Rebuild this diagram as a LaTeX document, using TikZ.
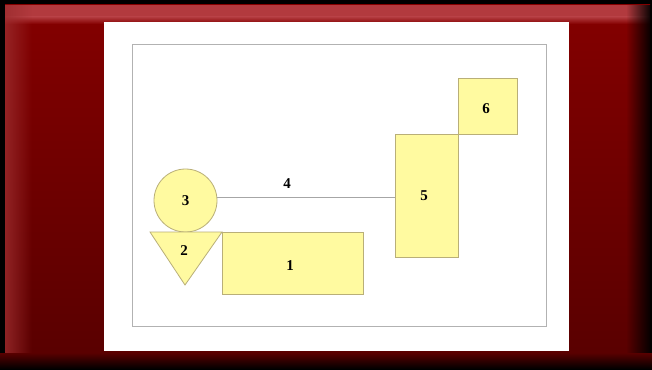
\documentclass[tikz,border=0pt]{standalone}
\usepackage{fontspec}
\setmainfont{Liberation Serif}
\usetikzlibrary{fadings,shapes.geometric}
\definecolor{shapefill}{RGB}{255,250,160}
\definecolor{shapeedge}{RGB}{185,175,120}
\definecolor{panelTop}{RGB}{132,0,0}
\definecolor{panelBot}{RGB}{88,0,0}
\definecolor{bevel}{RGB}{178,58,62}
\tikzset{
  x=1pt, y=-1pt,
  part/.style={fill=shapefill, draw=shapeedge, line width=0.8pt},
  lbl/.style={font=\bfseries\fontsize{15}{15}\selectfont, text=black, inner sep=0pt},
}
\begin{document}
\begin{tikzpicture}
\useasboundingbox (0,0) rectangle (652,369);
% outer frame
\fill[black] (0,0) rectangle (652,369);
\shade[top color=panelTop, bottom color=panelBot] (5,5) rectangle (650,367);
% bevelled edges
\fill[bevel] (5,5) rectangle (650,17);
\shade[top color=bevel, bottom color=panelTop] (5,17) rectangle (650,24);
\fill[bevel!75!panelBot, path fading=east, opacity=0.8] (5,5) rectangle (32,367);
\fill[black, path fading=west] (626,5) rectangle (652,369);
\shade[top color=panelBot, bottom color=black] (0,353) rectangle (652,369);
% sheet
\fill[white] (104,22) rectangle (569,351);
\draw[gray!60, line width=0.8pt] (132,44) rectangle (546,326);
% shapes
\node[part, circle, minimum size=63pt, inner sep=0pt] (c3) at (185.5,200.5) {};
\node[lbl] at (c3.center) {3};
\draw[part] (150,232) coordinate (t2a) -- (222,232) coordinate (t2b) -- (185,285) coordinate (t2c) -- cycle;
\node[lbl] (n2) at (184,251) {2};
\draw[part] (222,232) rectangle (363,294);
\node[lbl] (n1) at (290,266) {1};
\draw[part] (395,134) rectangle (458,257);
\coordinate (r5w) at (395,197);
\node[lbl] (n5) at (424,196) {5};
\draw[part] (458,78) rectangle (517,134);
\node[lbl] (n6) at (486,109) {6};
% connector
\draw[gray!70, line width=0.7pt] (c3.6) -- (c3.6 -| r5w);
\node[lbl] (n4) at (287,184) {4};
\end{tikzpicture}
\end{document}
